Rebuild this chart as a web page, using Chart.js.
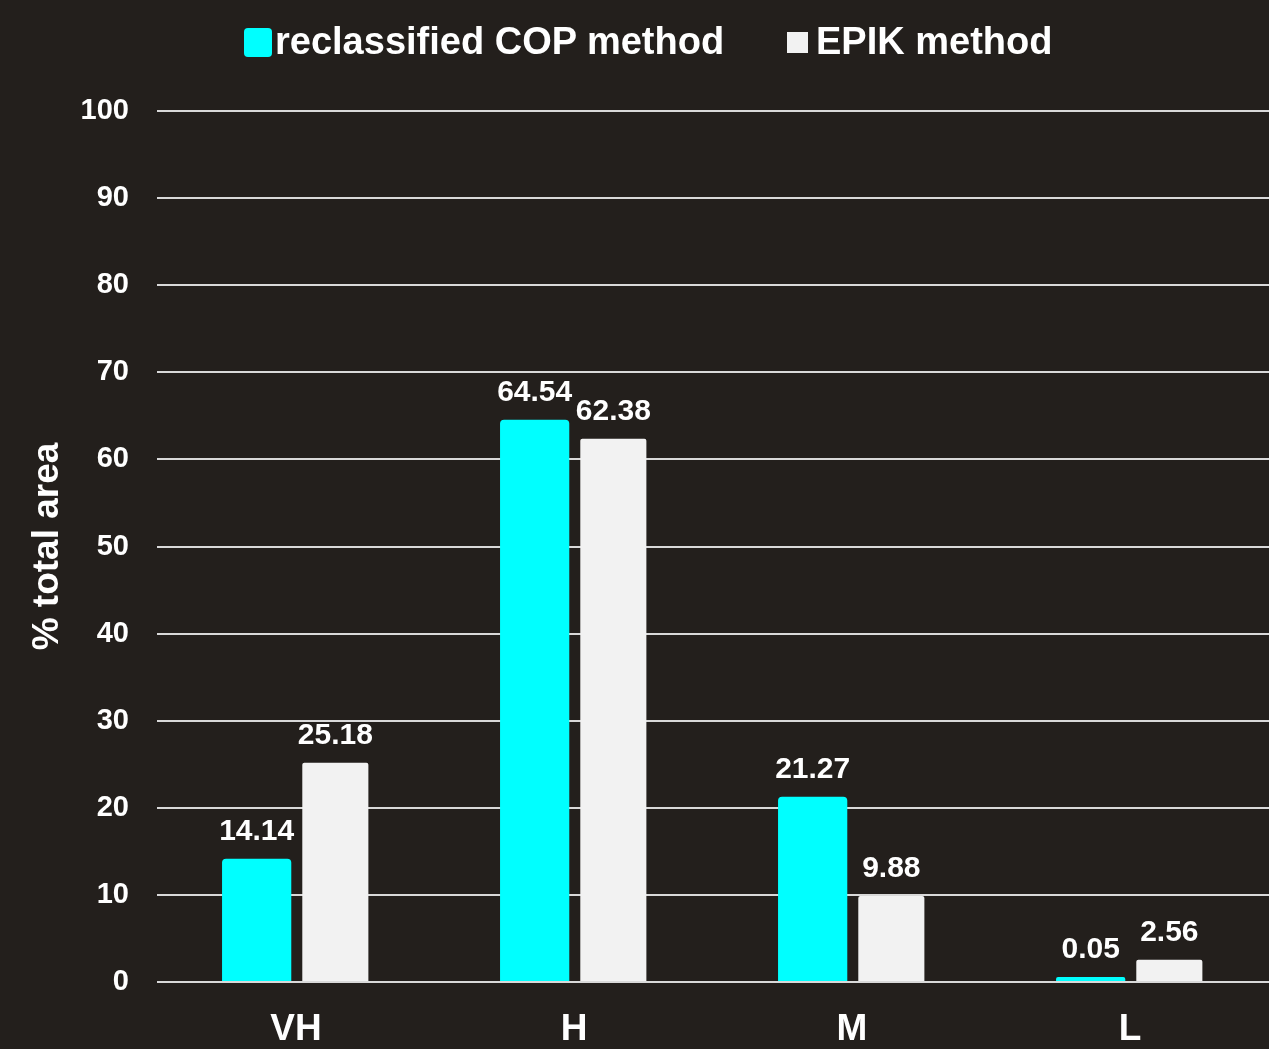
<!DOCTYPE html>
<html>
<head>
<meta charset="utf-8">
<script src="https://cdn.jsdelivr.net/npm/chart.js@4.4.1/dist/chart.umd.min.js"></script>
<style>
  html, body { margin: 0; padding: 0; background: #231f1c; }
  #wrap { position: relative; width: 1269px; height: 1049px; }
  #legend { position: absolute; left: 0; top: 0; width: 1269px; height: 80px;
    font-family: "Liberation Sans", Arial, sans-serif; font-weight: bold; font-size: 38px; color: #ffffff; }
  .item { position: absolute; top: 19px; line-height: 44px; white-space: nowrap; }
  .box { position: absolute; }
</style>
</head>
<body>
<div id="wrap">
  <canvas id="chart" width="1269" height="1049"></canvas>
  <div id="legend"></div>
</div>
<script>
// Chart data
const categories = ["VH", "H", "M", "L"];
const copValues = [14.14, 64.54, 21.27, 0.05];
const epikValues = [25.18, 62.38, 9.88, 2.56];
const seriesNames = ["reclassified COP method", "EPIK method"];
const yTicks = [0, 10, 20, 30, 40, 50, 60, 70, 80, 90, 100];

const FONT = "'Liberation Sans', Arial, sans-serif";
const COP_COLOR = "#00ffff";
const EPIK_COLOR = "#f2f2f2";

// Simple legend above the chart
const legend = document.getElementById("legend");
legend.innerHTML =
  '<div class="item" style="left:244px">' +
  '<span class="box" style="left:0;top:9px;width:28px;height:29px;background:' + COP_COLOR + ';border-radius:4px"></span>' +
  '<span style="margin-left:31px">' + seriesNames[0] + '</span></div>' +
  '<div class="item" style="left:787px">' +
  '<span class="box" style="left:0;top:13px;width:21px;height:21px;background:' + EPIK_COLOR + '"></span>' +
  '<span style="margin-left:29px">' + seriesNames[1] + '</span></div>';

// Draw value labels above each bar
const valueLabels = {
  id: "valueLabels",
  afterDatasetsDraw(chart) {
    const ctx = chart.ctx;
    ctx.save();
    ctx.font = "bold 30px " + FONT;
    ctx.fillStyle = "#ffffff";
    ctx.textAlign = "center";
    ctx.textBaseline = "alphabetic";
    chart.data.datasets.forEach((ds, i) => {
      chart.getDatasetMeta(i).data.forEach((bar, j) => {
        ctx.fillText(ds.data[j].toFixed(2), bar.x, bar.y - 19);
      });
    });
    ctx.restore();
  },
};

const ctx = document.getElementById("chart").getContext("2d");
Chart.defaults.color = "#ffffff";
Chart.defaults.font.family = FONT;
Chart.defaults.font.weight = "bold";

new Chart(ctx, {
  type: "bar",
  data: {
    labels: categories,
    datasets: [
      {
        label: seriesNames[0],
        data: copValues,
        backgroundColor: COP_COLOR,
        borderRadius: { topLeft: 4, topRight: 4 },
        borderSkipped: "bottom",
        minBarLength: 5,
        categoryPercentage: 0.566,
        barPercentage: 0.88,
      },
      {
        label: seriesNames[1],
        data: epikValues,
        backgroundColor: EPIK_COLOR,
        borderRadius: { topLeft: 2, topRight: 2 },
        borderSkipped: "bottom",
        categoryPercentage: 0.566,
        barPercentage: 0.84,
      },
    ],
  },
  options: {
    responsive: false,
    animation: false,
    layout: { padding: { top: 111, left: 26, right: 0, bottom: 0 } },
    plugins: {
      legend: { display: false },
      tooltip: { enabled: false },
    },
    scales: {
      x: {
        grid: { display: false },
        border: { display: false },
        ticks: { font: { size: 37, weight: "bold" }, padding: 18, color: "#ffffff" },
        afterFit: (scale) => { scale.height = 67; },
      },
      y: {
        min: 0,
        max: 100,
        afterBuildTicks: (scale) => { scale.ticks = yTicks.map((v) => ({ value: v })); },
        grid: { color: "#d9d9d9", lineWidth: 2, drawTicks: false },
        border: { display: false },
        ticks: { font: { size: 29, weight: "bold" }, padding: 28, color: "#ffffff" },
        title: {
          display: true,
          text: "% total area",
          font: { size: 37, weight: "bold" },
          color: "#ffffff",
          padding: { top: 0, bottom: 0 },
        },
        afterFit: (scale) => { scale.width = 131; },
      },
    },
  },
  plugins: [valueLabels],
});
</script>
</body>
</html>
